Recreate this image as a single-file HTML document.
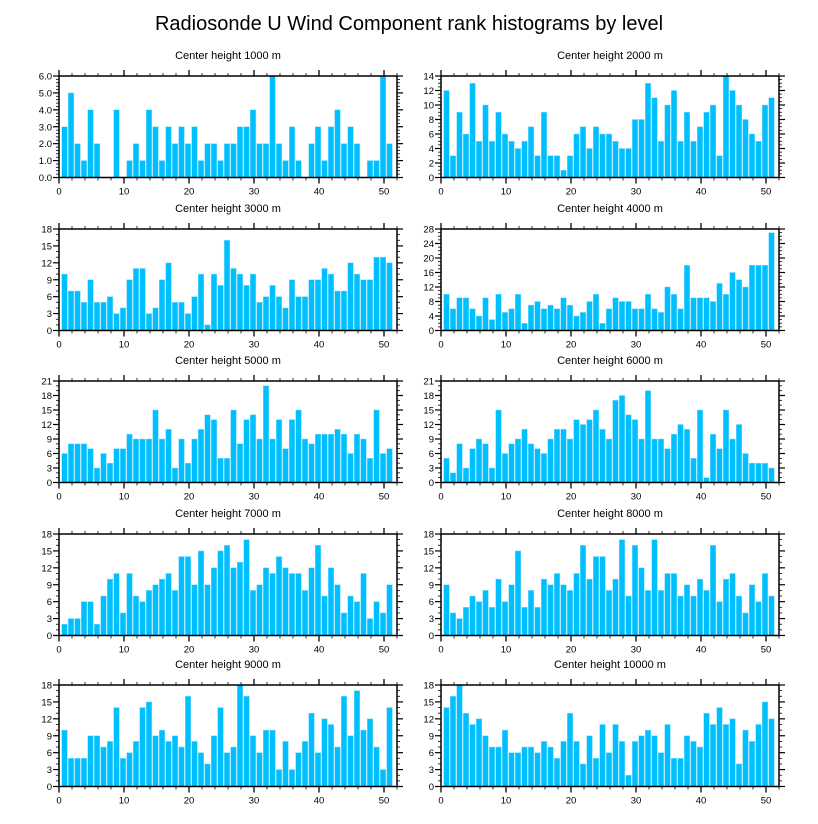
<!DOCTYPE html>
<html><head><meta charset="utf-8"><style>
html,body{margin:0;padding:0;background:#fff}
svg{display:block;font-family:"Liberation Sans",Arial,sans-serif}
</style></head><body>
<svg id="fig" width="818" height="824" viewBox="0 0 818 824">
<text x="409" y="30" text-anchor="middle" font-size="20">Radiosonde U Wind Component rank histograms by level</text>
</svg>
<script>
const levels = ["1000","2000","3000","4000","5000","6000","7000","8000","9000","10000"];
const yMax = [6,14,18,28,21,21,18,18,18,18];
const yStep = [1,2,3,4,3,3,3,3,3,3];
const xTicks = [0,10,20,30,40,50];
const v1000 = [3,5,2,1,4,2,0,0,4,0,1,2,1,4,3,1,3,2,3,2,3,1,2,2,1,2,2,3,3,4,2,2,6,2,1,3,1,0,2,3,1,3,4,2,3,2,0,1,1,6,2];
const v2000 = [12,3,9,6,13,5,10,5,9,6,5,4,5,7,3,9,3,3,1,3,6,7,4,7,6,6,5,4,4,8,8,13,11,5,10,12,5,9,5,7,9,10,3,14,12,10,8,6,5,10,11];
const v3000 = [10,7,7,5,9,5,5,6,3,4,9,11,11,3,4,9,12,5,5,3,6,10,1,10,8,16,11,10,8,10,5,6,8,6,4,9,6,6,9,9,11,10,7,7,12,10,9,9,13,13,12];
const v4000 = [10,6,9,9,6,4,9,3,10,5,6,10,2,7,8,6,7,6,9,7,4,5,8,10,2,6,9,8,8,6,6,10,6,5,12,10,6,18,9,9,9,8,13,10,16,14,12,18,18,18,27];
const v5000 = [6,8,8,8,7,3,6,4,7,7,10,9,9,9,15,9,11,3,9,4,9,11,14,13,5,5,15,8,13,14,9,20,9,13,7,13,15,9,8,10,10,10,11,10,6,10,9,5,15,6,7];
const v6000 = [5,2,8,3,7,9,8,3,15,6,8,9,11,8,7,6,9,11,11,9,13,12,13,15,11,9,17,18,14,13,9,19,9,9,7,10,12,11,5,15,1,10,7,15,9,12,6,4,4,4,3];
const v7000 = [2,3,3,6,6,2,7,10,11,4,11,7,6,8,9,10,11,8,14,14,9,15,9,12,15,16,12,13,17,8,9,12,11,14,12,11,11,8,12,16,7,12,9,4,7,6,11,3,6,4,9];
const v8000 = [9,4,3,5,7,6,8,5,10,6,9,15,5,8,5,10,9,11,9,8,11,16,10,14,14,8,10,17,7,16,12,8,17,8,11,11,7,9,7,10,8,16,6,10,11,7,4,9,6,11,7];
const v9000 = [10,5,5,5,9,9,7,8,14,5,6,8,14,15,9,10,8,9,7,16,8,6,4,9,14,6,7,18,16,9,6,10,10,3,8,3,6,8,13,6,12,11,7,16,9,17,10,12,7,3,14];
const v10000 = [14,16,18,13,11,12,9,7,7,10,6,6,7,7,6,8,7,5,8,13,8,4,9,5,11,6,11,8,2,8,9,10,9,6,11,5,5,9,8,7,13,11,14,11,12,4,10,8,11,15,12];
const series = [v1000,v2000,v3000,v4000,v5000,v6000,v7000,v8000,v9000,v10000];

const NS="http://www.w3.org/2000/svg";
const svg=document.getElementById('fig');
function mk(tag,attrs,parent){const e=document.createElementNS(NS,tag);for(const k in attrs)e.setAttribute(k,attrs[k]);parent.appendChild(e);return e;}
const colX=[59,441], rowY=[76,229,381,534,685], PW=338, PH=101.5, XMAX=52;

series.forEach((vals,p)=>{
  const X0=colX[p%2], Y0=rowY[Math.floor(p/2)], YB=Y0+PH;
  const g=mk('g',{},svg);
  
  
  const xs=v=>X0+v/XMAX*PW;
  const ys=v=>YB-v/yMax[p]*PH;
  const t=mk('text',{x:X0+PW/2,y:Y0-17,'text-anchor':'middle','font-size':'11'},g);
  t.textContent='Center height '+levels[p]+' m';
  
  
  vals.forEach((v,i)=>{
    const c=i+1-0.15, w=0.86;
    const r=mk('rect',{x:xs(c-w/2),y:ys(v),width:xs(w)-X0,height:YB-ys(v),fill:'#00bfff',stroke:'#7fdcff','stroke-width':'0.5'},g);
    
    
  });
  // x ticks
  for(let v=0;v<=XMAX;v+=2){
    const major=v%10===0, L=major?6:3;
    mk('line',{x1:xs(v),x2:xs(v),y1:YB,y2:YB+L,stroke:'#000','stroke-width':major?1.3:0.8},g);
    mk('line',{x1:xs(v),x2:xs(v),y1:Y0,y2:Y0-L,stroke:'#000','stroke-width':major?1.3:0.8},g);
  }
  xTicks.forEach(v=>{
    const l=mk('text',{x:xs(v),y:YB+17,'text-anchor':'middle','font-size':'9.5'},g);
    l.textContent=v;
    
    
  });
  // y ticks
  const minor=yStep[p]/ (p===0?5:(yStep[p]===2||yStep[p]===4?4:3));
  for(let v=0;v<=yMax[p]+1e-9;v+=minor){
    const isMaj=Math.abs(v/yStep[p]-Math.round(v/yStep[p]))<1e-6, L=isMaj?6:3;
    mk('line',{x1:X0,x2:X0-L,y1:ys(v),y2:ys(v),stroke:'#000','stroke-width':isMaj?1.2:0.8},g);
    mk('line',{x1:X0+PW,x2:X0+PW+L,y1:ys(v),y2:ys(v),stroke:'#000','stroke-width':isMaj?1.2:0.8},g);
  }
  for(let v=0;v<=yMax[p];v+=yStep[p]){
    const l=mk('text',{x:X0-7,y:ys(v)+3.5,'text-anchor':'end','font-size':'9.5'},g);
    l.textContent=p===0?v.toFixed(1):v;
    
    
  }
  const f=mk('rect',{x:X0,y:Y0,width:PW,height:PH,fill:'none',stroke:'#000','stroke-width':1.5},g);
  
  
});
</script>
</body></html>
